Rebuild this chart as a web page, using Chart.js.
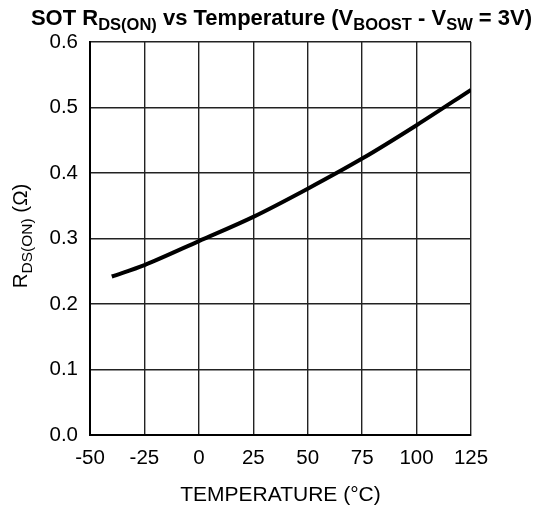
<!DOCTYPE html>
<html>
<head>
<meta charset="utf-8">
<script src="https://cdn.jsdelivr.net/npm/chart.js@4"></script>
<style>
  html, body { margin: 0; padding: 0; background: #fff; }
  #wrap { width: 535px; height: 508px; }
</style>
</head>
<body>
<div id="wrap"><canvas id="rdsChart" width="535" height="508"></canvas></div>
<script>
// Data
const temps = [-40, -25, 0, 25, 50, 75, 100, 125];
const rdsOn = [0.242, 0.2595, 0.296, 0.333, 0.376, 0.422, 0.473, 0.527];
const xTicks = [-50, -25, 0, 25, 50, 75, 100, 125];
const yTicks = [0.0, 0.1, 0.2, 0.3, 0.4, 0.5, 0.6];

const FONT = '"Liberation Sans", Arial, sans-serif';

// draw a run of [text, isSub] parts starting at x, baseline y
function drawParts(ctx, parts, x, y, big, small, weight, drop) {
    parts.forEach(([txt, sub]) => {
        ctx.font = weight + ' ' + (sub ? small : big) + 'px ' + FONT;
        ctx.fillText(txt, x, sub ? y + drop : y);
        x += ctx.measureText(txt).width;
    });
    return x;
}
function partsWidth(ctx, parts, big, small, weight) {
    let w = 0;
    parts.forEach(([txt, sub]) => {
        ctx.font = weight + ' ' + (sub ? small : big) + 'px ' + FONT;
        w += ctx.measureText(txt).width;
    });
    return w;
}

const labelsPlugin = {
    id: 'labels',
    afterDraw(chart) {
        const ctx = chart.ctx;
        ctx.save();
        ctx.fillStyle = '#000';
        ctx.textBaseline = 'alphabetic';
        ctx.textAlign = 'left';

        // title
        const title = [['SOT R', false], ['DS(ON)', true], [' vs Temperature (V', false],
            ['BOOST', true], [' - V', false], ['SW', true], [' = 3V)', false]];
        const tw = partsWidth(ctx, title, 22, 16.5, 'bold');
        drawParts(ctx, title, 281.5 - tw / 2, 25, 22, 16.5, 'bold', 5);

        // y axis title, rotated
        const ylab = [['R', false], ['DS(ON)', true], [' (\u03A9)', false]];
        const yw = partsWidth(ctx, ylab, 20.5, 15.5, 'normal');
        ctx.translate(27, 236);
        ctx.rotate(-Math.PI / 2);
        drawParts(ctx, ylab, -yw / 2, 0, 20.5, 15.5, 'normal', 5);
        ctx.restore();
    }
};

const ctx = document.getElementById('rdsChart');
new Chart(ctx, {
    type: 'line',
    data: {
        datasets: [{
            data: temps.map((t, i) => ({ x: t, y: rdsOn[i] })),
            borderColor: '#000',
            borderWidth: 4,
            pointRadius: 0,
            cubicInterpolationMode: 'monotone',
            fill: false
        }]
    },
    options: {
        responsive: false,
        animation: false,
        layout: { padding: { top: 42, right: 64, left: 0, bottom: 0 } },
        plugins: {
            legend: { display: false },
            tooltip: { enabled: false }
        },
        scales: {
            x: {
                type: 'linear',
                min: -50,
                max: 125,
                afterBuildTicks: s => { s.ticks = xTicks.map(v => ({ value: v })); },
                afterFit: s => { s.height = 73; },
                grid: { color: '#222', lineWidth: 1.4, drawTicks: false },
                border: { color: '#000', width: 2 },
                ticks: {
                    color: '#000',
                    padding: 11,
                    font: { family: FONT, size: 20.5 }
                },
                title: {
                    display: true,
                    text: 'TEMPERATURE (\u00B0C)',
                    color: '#000',
                    font: { family: FONT, size: 21 },
                    padding: { top: 0, bottom: 0 }
                }
            },
            y: {
                min: 0,
                max: 0.6,
                afterBuildTicks: s => { s.ticks = yTicks.map(v => ({ value: v })); },
                afterFit: s => { s.width = 90; },
                grid: { color: '#222', lineWidth: 1.4, drawTicks: false },
                border: { color: '#000', width: 2 },
                ticks: {
                    color: '#000',
                    padding: 12,
                    font: { family: FONT, size: 20.5 },
                    callback: v => v.toFixed(1)
                }
            }
        }
    },
    plugins: [labelsPlugin]
});
</script>
</body>
</html>
